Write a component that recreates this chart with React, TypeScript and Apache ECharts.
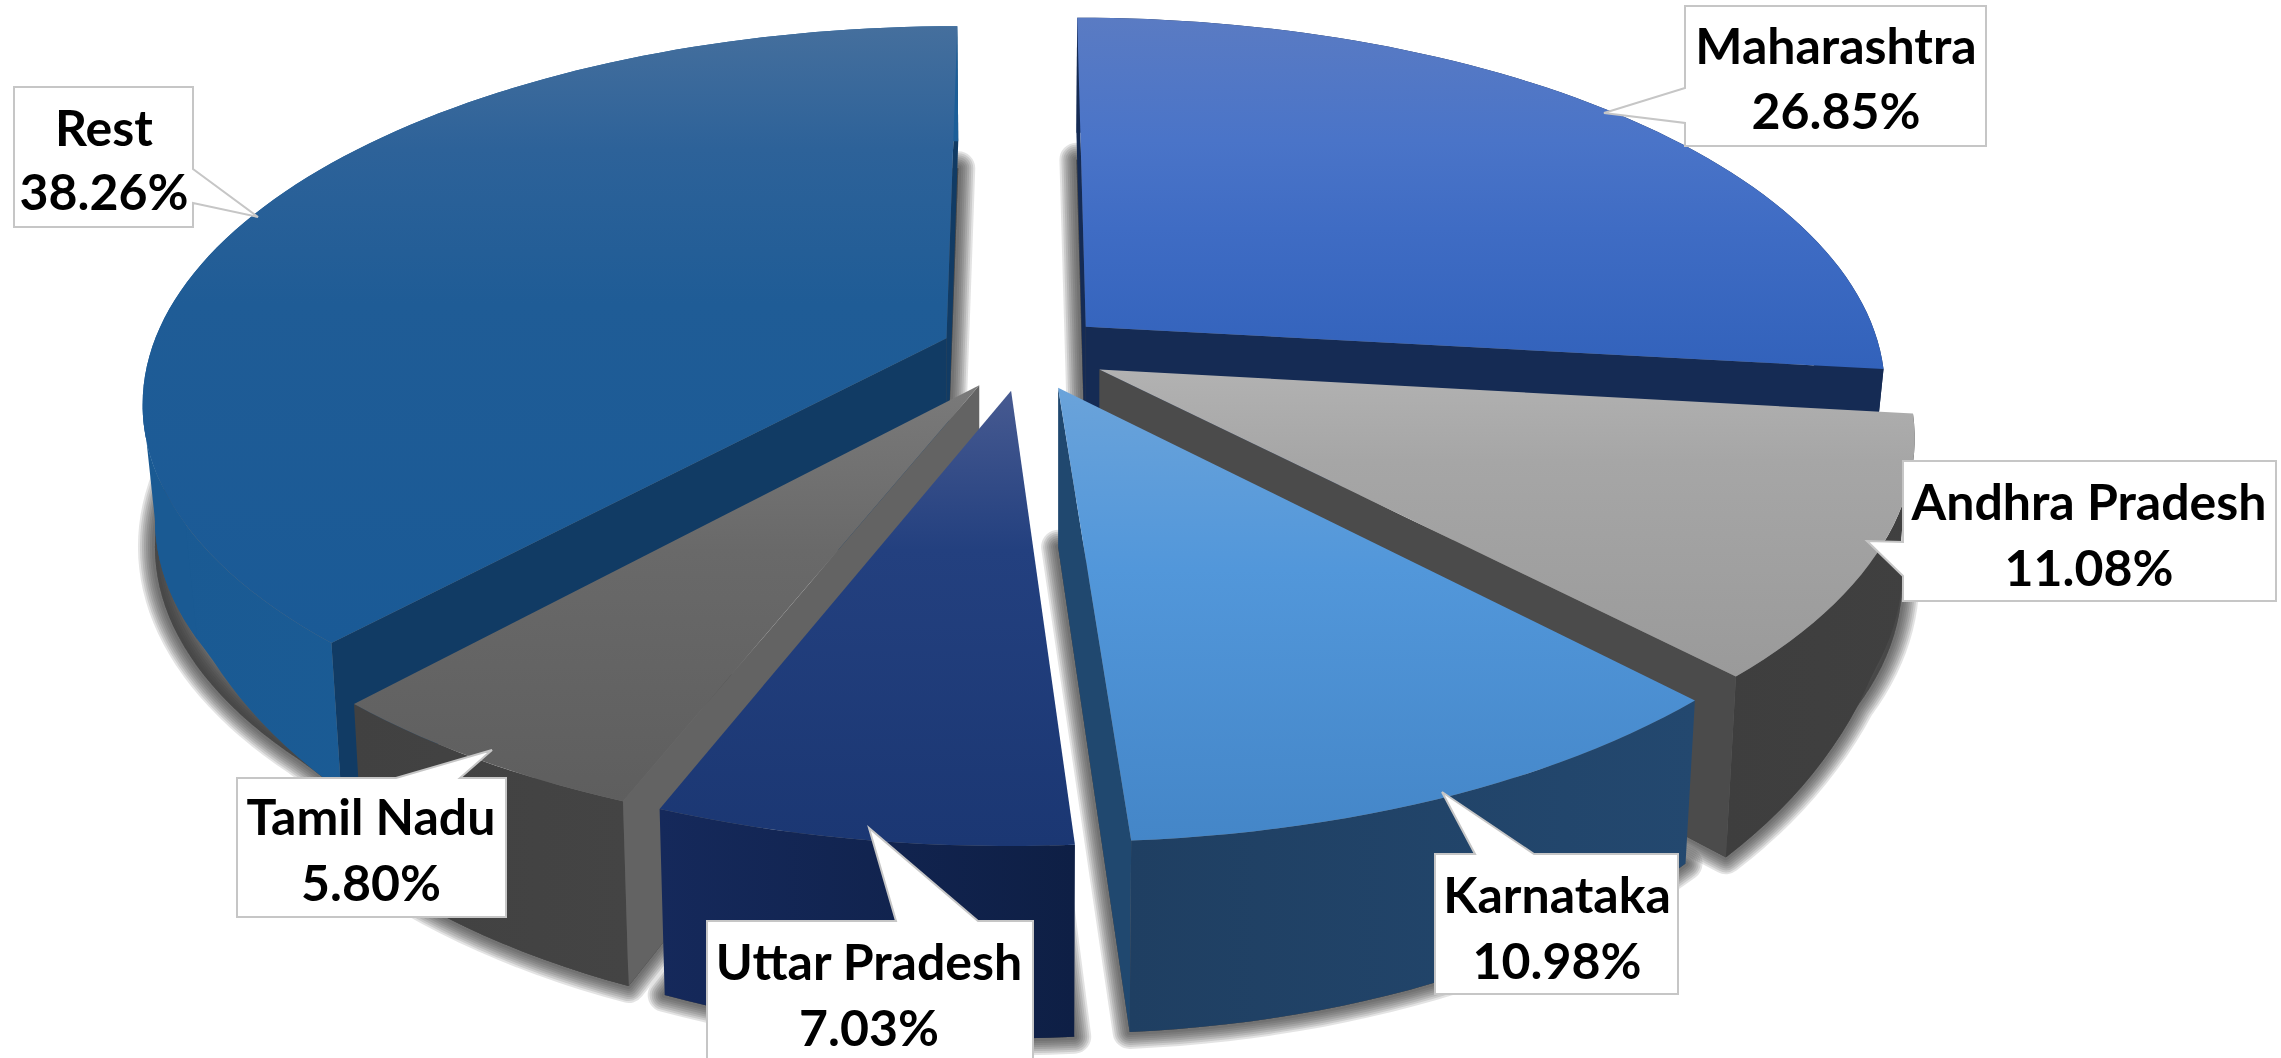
import React, { useEffect, useRef } from "react";
import * as echarts from "echarts";

// ---- data ----
const names = ["Maharashtra", "Andhra Pradesh", "Karnataka", "Uttar Pradesh", "Tamil Nadu", "Rest"];
const shares = [26.85, 11.08, 10.98, 7.03, 5.8, 38.26];

// ---- styles (same order as names) ----
const topStops: [number, string][][] = [
  [[0, "#5a7bc3"], [0.35, "#4a74c8"], [0.6, "#3f6cc4"], [1, "#3262bb"]],
  [[0, "#b2b2b2"], [0.3, "#a6a6a6"], [1, "#9a9a9a"]],
  [[0, "#6aa3da"], [0.4, "#5297da"], [1, "#4486c8"]],
  [[0, "#475a91"], [0.35, "#23407f"], [1, "#1b3773"]],
  [[0, "#7a7a7a"], [0.4, "#696969"], [1, "#5e5e5e"]],
  [[0, "#456f9d"], [0.2, "#2d6299"], [0.45, "#1f5c96"], [1, "#1a5a96"]],
];
const radialWall = ["#152b54", "#4b4b4b", "#20486f", "#0f2149", "#636363", "#113b64"];
const outerWall: [string, string][] = [
  ["#152b54", "#152b54"],
  ["#3e3e3e", "#404040"],
  ["#1f3f62", "#23486f"],
  ["#15295b", "#0e1f45"],
  ["#414141", "#444444"],
  ["#1a5a93", "#1c5e98"],
];
const wallScale = [1, 1.15, 1, 1, 1, 1];
const paintOrder = [0, 5, 1, 4, 3, 2];
const shadowWidths = [34, 30, 26, 22, 18, 14, 10, 6];

// ---- projection ----
const CX = 1024, CY = 352, RX = 796, RY = 367, PERSP = 0.163, EXPLODE = 0.105, APEX_DEPTH = 159;

const project = (u: number, v: number): number[] => {
  const w = 1 + PERSP * v;
  return [CX + (RX * u) / w, CY - (RY * v) / w];
};
const depthAt = (y: number) =>
  Math.max(115, 43 + 0.375 * (y - 365) - 0.00033 * (y - 365) * (y - 650));
const rad = (d: number) => (d * Math.PI) / 180;

const geometry = (i: number) => {
  let start = 0;
  for (let k = 0; k < i; k++) start += shares[k] * 3.6;
  const end = start + shares[i] * 3.6;
  const mid = (start + end) / 2;
  const ou = EXPLODE * Math.sin(rad(mid));
  const ov = EXPLODE * Math.cos(rad(mid));
  const apex = project(ou, ov);
  const rim: number[][] = [];
  const n = Math.max(8, Math.ceil((end - start) / 1.5));
  for (let k = 0; k <= n; k++) {
    const a = rad(start + ((end - start) * k) / n);
    rim.push(project(ou + Math.sin(a), ov + Math.cos(a)));
  }
  return { apex, rim, midPt: rim[Math.floor(n / 2)] };
};
const pushDown = (p: number[], i: number, floor = 0) => [
  CX + (p[0] - CX) * 0.986,
  p[1] + Math.max(floor, depthAt(p[1]) * wallScale[i]),
];

const gradV = (stops: [number, string][]) =>
  new echarts.graphic.LinearGradient(0, 0, 0, 1, stops.map(([offset, color]) => ({ offset, color })));
const gradH = (a: string, b: string) =>
  new echarts.graphic.LinearGradient(0, 0, 1, 0, [{ offset: 0, color: a }, { offset: 1, color: b }]);

const renderShadow = (params: any) => {
  const i = paintOrder[params.dataIndex];
  const { apex, rim } = geometry(i);
  const pts = [[apex[0], apex[1] + APEX_DEPTH], ...rim.map((p) => pushDown(p, i, 142))];
  return {
    type: "group",
    children: shadowWidths.map((w) => ({
      type: "polygon",
      shape: { points: pts },
      style: { fill: "rgba(60,60,60,0.14)", stroke: "rgba(60,60,60,0.14)", lineWidth: w, lineJoin: "round" },
      silent: true,
    })),
  };
};

const radialFace = (i: number, apex: number[], edge: number[], interior: number[]) => {
  const ex = edge[0] - apex[0], ey = edge[1] - apex[1];
  const crossDown = ex * 1 - ey * 0;
  const crossIn = ex * (interior[1] - apex[1]) - ey * (interior[0] - apex[0]);
  if (crossDown * crossIn >= 0) return null;
  return {
    type: "polygon",
    shape: { points: [apex, edge, pushDown(edge, i), [apex[0], apex[1] + APEX_DEPTH]] },
    style: { fill: radialWall[i] },
    silent: true,
  };
};

const renderSlice = (params: any) => {
  const i = paintOrder[params.dataIndex];
  const { apex, rim, midPt } = geometry(i);
  const children: any[] = [];
  for (const edge of [rim[0], rim[rim.length - 1]]) {
    const f = radialFace(i, apex, edge, midPt);
    if (f) children.push(f);
  }
  const lower = rim.map((p) => pushDown(p, i)).reverse();
  children.push({
    type: "polygon",
    shape: { points: [...rim, ...lower] },
    style: { fill: gradH(outerWall[i][0], outerWall[i][1]) },
    silent: true,
  });
  // where the rim turns back at its leftmost point, close the wall's silhouette
  let kMin = 0;
  rim.forEach((p, k) => {
    if (p[0] < rim[kMin][0]) kMin = k;
  });
  if (kMin > 0 && kMin < rim.length - 1) {
    const part = rim.slice(Math.max(0, kMin - 12), kMin + 1);
    children.push({
      type: "polygon",
      shape: { points: [...part, ...part.map((p) => pushDown(p, i)).reverse()] },
      style: { fill: outerWall[i][0] },
      silent: true,
    });
  }
  children.push({
    type: "polygon",
    shape: { points: [apex, ...rim] },
    style: { fill: gradV(topStops[i]) },
    silent: true,
  });
  return { type: "group", children };
};

// ---- callouts: outline of each box with its pointer, and the centre of its text ----
const calloutOutline: number[][][] = [
  [[1685, 6], [1986, 6], [1986, 146], [1685, 146], [1685, 123], [1604, 113], [1685, 88]],
  [[1903, 461], [2276, 461], [2276, 601], [1903, 601], [1903, 576], [1867, 541], [1903, 542]],
  [[1435, 854], [1475, 854], [1442, 792], [1534, 854], [1678, 854], [1678, 994], [1435, 994]],
  [[707, 921], [896, 921], [869, 828], [978, 921], [1033, 921], [1033, 1064], [707, 1064]],
  [[237, 778], [396, 778], [492, 750], [460, 778], [506, 778], [506, 917], [237, 917]],
  [[14, 87], [193, 87], [193, 169], [258, 217], [193, 203], [193, 227], [14, 227]],
];
const textCentre: number[][] = [
  [1836, 45, 110],
  [2089, 501, 567],
  [1557, 894, 960],
  [869, 961, 1027],
  [371, 816, 882],
  [104, 127, 191],
];

const renderLabel = (params: any) => {
  const i = params.dataIndex;
  const [cx, y1, y2] = textCentre[i];
  const font = 'bold 50px Lato, "Open Sans", sans-serif';
  const base = { fill: "#000", font, align: "center", verticalAlign: "middle" };
  return {
    type: "group",
    children: [
      {
        type: "polygon",
        shape: { points: calloutOutline[i] },
        style: { fill: "#fff", stroke: "#c6c6c6", lineWidth: 2 },
        silent: true,
      },
      { type: "text", style: { ...base, text: names[i], x: cx, y: y1 }, silent: true },
      { type: "text", style: { ...base, text: `${shares[i].toFixed(2)}%`, x: cx, y: y2 }, silent: true },
    ],
  };
};

export default function App() {
  const ref = useRef<HTMLDivElement>(null);
  useEffect(() => {
    document.documentElement.style.margin = "0";
    document.body.style.margin = "0";
    document.body.style.overflow = "hidden";
    const chart = echarts.init(ref.current!, undefined, { renderer: "svg" });
    const sliceData = paintOrder.map((i) => [i, shares[i]]);
    chart.setOption({
      animation: false,
      backgroundColor: "#fff",
      tooltip: { show: false },
      series: [
        { type: "custom", coordinateSystem: "none", renderItem: renderShadow, data: sliceData, z: 1, clip: false, silent: true },
        { type: "custom", coordinateSystem: "none", renderItem: renderSlice, data: sliceData, z: 2, clip: false, silent: true },
        { type: "custom", coordinateSystem: "none", renderItem: renderLabel, data: names.map((_, i) => [i, shares[i]]), z: 3, clip: false, silent: true },
      ],
    });
    return () => chart.dispose();
  }, []);
  return <div ref={ref} style={{ position: "absolute", left: 0, top: 0, width: 2281, height: 1058 }} />;
}
